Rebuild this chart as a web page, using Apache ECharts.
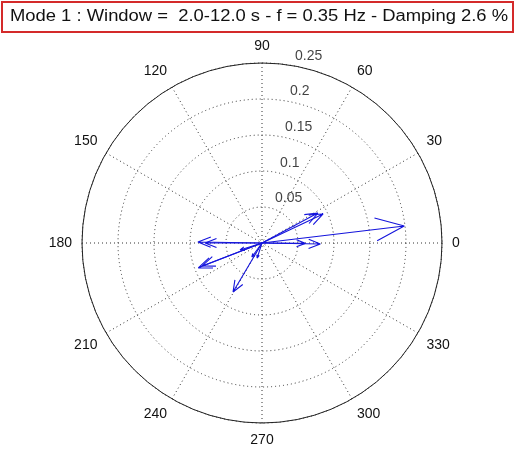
<!DOCTYPE html>
<html>
<head>
<meta charset="utf-8">
<script src="https://cdn.jsdelivr.net/npm/echarts@6/dist/echarts.min.js"></script>
<style>
  html, body { margin: 0; padding: 0; background: #ffffff; }
  #chart { width: 516px; height: 450px; }
</style>
</head>
<body>
<div id="chart"></div>
<script>
// Compass plot of mode-shape phasors
const titleText = 'Mode 1 : Window =  2.0-12.0 s - f = 0.35 Hz - Damping 2.6 %';

// Phasor magnitudes and their angles (degrees, counter-clockwise from 0)
const magnitudes = [0.199, 0.094, 0.088, 0.081, 0.060, 0.089, 0.079, 0.095, 0.089, 0.079, 0.032, 0.024, 0.022];
const angles     = [6.8,   25.4,  28.2,  359,   359.5, 179.1, 180,   201.3, 201,   239.4, 197.6, 234,   252];

// Ring values and angle tick labels
const ringValues = [0.05, 0.1, 0.15, 0.2, 0.25];
const angleTicks = [0, 30, 60, 90, 120, 150, 180, 210, 240, 270, 300, 330];

const rMax = 0.25;
const labelAngle = 82;                 // direction along which ring values are written
const headBack = 0.8, headHalf = 0.08; // arrow head shape, relative to arrow length

const font = 'Liberation Sans, Arial, sans-serif';
const blue = '#1414dc';

// Each arrow: origin -> tip, then the two barbs of the head
function arrowPoints(r, a) {
  const hr = r * Math.sqrt(headBack * headBack + headHalf * headHalf);
  const da = Math.atan2(headHalf, headBack) * 180 / Math.PI;
  return [[0, a], [r, a], [hr, a + da], [r, a], [hr, a - da]];
}

const arrowSeries = magnitudes.map((r, i) => ({
  type: 'line',
  coordinateSystem: 'polar',
  data: arrowPoints(r, angles[i]),
  symbol: 'none',
  silent: true,
  lineStyle: { color: blue, width: 1.1 },
  z: 5
}));

const ringLabelSeries = {
  type: 'scatter',
  coordinateSystem: 'polar',
  symbolSize: 0,
  silent: true,
  clip: false,
  data: ringValues.map(v => [v, labelAngle]),
  label: {
    show: true,
    position: [8, -2],
    align: 'left',
    verticalAlign: 'bottom',
    formatter: p => String(p.value[0]),
    fontFamily: font,
    fontSize: 14,
    color: '#111'
  },
  z: 6
};

const chart = echarts.init(document.getElementById('chart'), null, { renderer: 'canvas' });
chart.setOption({
  backgroundColor: '#ffffff',
  animation: false,
  polar: { center: [262, 243], radius: 180 },
  angleAxis: {
    type: 'value',
    min: 0,
    max: 360,
    interval: 30,
    startAngle: 0,
    clockwise: false,
    axisLine: { show: true, lineStyle: { color: '#222', width: 1 } },
    axisTick: { show: false },
    axisLabel: {
      show: true,
      margin: 10,
      fontFamily: font,
      fontSize: 14,
      color: '#111',
      formatter: v => (angleTicks.indexOf(v) >= 0 ? String(v) : '')
    },
    splitLine: { show: true, lineStyle: { color: '#333', width: 1, type: [1, 3] } }
  },
  radiusAxis: {
    type: 'value',
    min: 0,
    max: rMax,
    interval: 0.05,
    axisLine: { show: false },
    axisTick: { show: false },
    axisLabel: { show: false },
    splitLine: { show: true, lineStyle: { color: '#333', width: 1, type: [1, 3] } }
  },
  graphic: [
    {
      type: 'rect',
      shape: { x: 2, y: 2, width: 511, height: 30 },
      style: { fill: '#ffffff', stroke: '#d42a2a', lineWidth: 2 },
      z: 10
    },
    {
      type: 'text',
      x: 259,
      y: 17,
      scaleX: 1.15,
      style: {
        text: titleText,
        fontFamily: font,
        fontSize: 16,
        fill: '#111',
        align: 'center',
        verticalAlign: 'middle'
      },
      z: 11
    }
  ],
  series: arrowSeries.concat([ringLabelSeries])
});
</script>
</body>
</html>
